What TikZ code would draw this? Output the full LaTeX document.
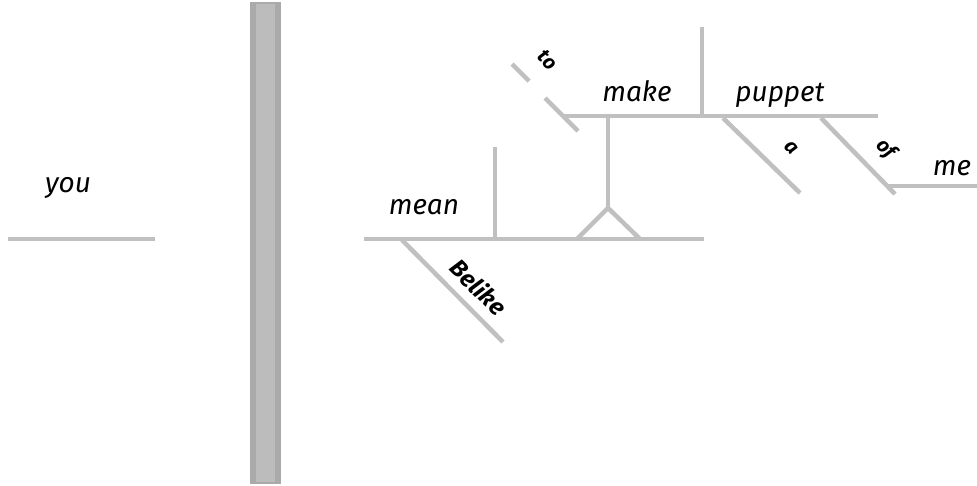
\documentclass[tikz,border=0pt]{standalone}
\usepackage{fontspec}
\setmainfont{Fira Sans}
\begin{document}
\begin{tikzpicture}[x=1pt,y=-1pt,
  rule/.style={draw=ruleGray,line width=4.5pt},
  word/.style={font=\itshape\fontsize{28}{30}\selectfont,anchor=base,inner sep=0pt},
  slantword/.style={font=\bfseries\itshape\fontsize{20}{22}\selectfont,rotate=-45,inner sep=0pt}]
\definecolor{ruleGray}{HTML}{C0C0C0}
\definecolor{barEdge}{HTML}{AAAAAA}
\definecolor{barFill}{HTML}{BCBCBC}
\useasboundingbox (0,0) rectangle (977,486);

% divider bar between subject and predicate
\fill[barEdge] (250,2) rectangle (281,484);
\fill[barFill] (256,4) rectangle (275,482);

% subject line
\coordinate (youL) at (8,239);
\coordinate (youR) at (155,239);
\draw[rule] (youL) -- (youR);
\node[word] (you) at (68,193) {you};

% main predicate line
\coordinate (mainL) at (364,239);
\coordinate (mainR) at (704,239);
\draw[rule] (mainL) -- (mainR);
\node[word] (mean) at (424,215) {mean};
\coordinate (objT) at (495,147);
\coordinate (objB) at (495,239);
\draw[rule] (objT) -- (objB);

% adverb under the verb
\coordinate (belA) at (402,240);
\coordinate (belB) at (503,342);
\draw[rule] (belA) -- (belB);
\node[slantword,font=\bfseries\itshape\fontsize{24}{26}\selectfont] (belike) at (479,287) {Belike};

% stilt carrying the infinitive phrase
\coordinate (apex) at (608,208);
\coordinate (legL) at (577,239);
\coordinate (legR) at (640,239);
\coordinate (stiltT) at (608,116);
\draw[rule,line join=miter] (legL) -- (apex) -- (legR);
\draw[rule] (apex) -- (stiltT);

% infinitive line
\coordinate (infL) at (564,116);
\coordinate (infR) at (878,116);
\draw[rule] (infL) -- (infR);
\node[word] (make) at (637,102) {make};
\node[word] (puppet) at (780,102) {puppet};
\coordinate (dirT) at (702,27);
\coordinate (dirB) at (702,116);
\draw[rule] (dirT) -- (dirB);

% "to" slant, broken in two
\coordinate (toA) at (512,64);
\coordinate (toB) at (529,81);
\coordinate (toC) at (545,98);
\coordinate (toD) at (578,131);
\draw[rule] (toA) -- (toB);
\draw[rule] (toC) -- (toD);
\node[slantword] (to) at (548,60) {to};

% article under "puppet"
\coordinate (aA) at (723,118);
\coordinate (aB) at (800,193);
\draw[rule] (aA) -- (aB);
\node[slantword] (a) at (791,148) {a};

% prepositional phrase
\coordinate (ofA) at (821,118);
\coordinate (ofB) at (895,194);
\coordinate (meL) at (888,186);
\coordinate (meR) at (977,186);
\draw[rule] (ofA) -- (ofB);
\draw[rule] (meL) -- (meR);
\node[slantword] (of) at (886,149) {of};
\node[word] (me) at (952,176) {me};
\end{tikzpicture}
\end{document}
